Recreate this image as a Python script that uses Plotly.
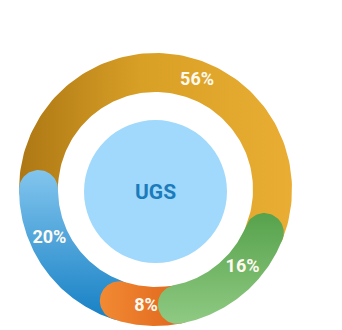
import numpy as np
import plotly.graph_objects as go

# ---- data ----
segments = ["A", "B", "C", "D"]
values = [56, 16, 8, 20]
labels = ["56%", "16%", "8%", "20%"]
center_label = "UGS"

# ---- style ----
gradients = [
    ("horizontal", [[0, "#ad7714"], [0.45, "#d9a026"], [1, "#e9ad33"]]),
    ("vertical", [[0, "#8fca83"], [1, "#57a24c"]]),
    ("horizontal", [[0, "#f28a33"], [1, "#dd6119"]]),
    ("vertical", [[0, "#1680c4"], [1, "#82c5ee"]]),
]
label_shift_deg = [10, -8.5, 1, 11]
draw_order = [0, 3, 2, 1]
rotation = 270.0
r_out, r_in = 1.0, 97.5 / 136.5
r_mid, half_w = (r_out + r_in) / 2, (r_out - r_in) / 2

W, H = 342, 330
px_per_unit = 136.5
cx_px, cy_px = 155.5, 189.5

total = sum(values)
starts, ends = [], []
acc = rotation
for v in values:
    starts.append(acc)
    acc += v / total * 360.0
    ends.append(acc)


def seg_polygon(a, b):
    xs, ys = [], []
    ang = np.radians(np.linspace(a, b, 120))
    xs += list(r_out * np.sin(ang)); ys += list(r_out * np.cos(ang))
    br = np.radians(b)
    u = np.array([np.sin(br), np.cos(br)]); t = np.array([np.cos(br), -np.sin(br)])
    c = r_mid * u
    for phi in np.linspace(0, np.pi, 40):
        p = c + half_w * (np.cos(phi) * u + np.sin(phi) * t)
        xs.append(p[0]); ys.append(p[1])
    ang = np.radians(np.linspace(b, a, 120))
    xs += list(r_in * np.sin(ang)); ys += list(r_in * np.cos(ang))
    ar = np.radians(a)
    u = np.array([np.sin(ar), np.cos(ar)]); t = np.array([np.cos(ar), -np.sin(ar)])
    c = r_mid * u
    for phi in np.linspace(0, np.pi, 40):
        p = c + half_w * (-np.cos(phi) * u - np.sin(phi) * t)
        xs.append(p[0]); ys.append(p[1])
    xs.append(xs[0]); ys.append(ys[0])
    return xs, ys


fig = go.Figure()
for i in draw_order:
    xs, ys = seg_polygon(starts[i], ends[i])
    gtype, cs = gradients[i]
    fig.add_trace(go.Scatter(
        x=xs, y=ys, mode="lines", line=dict(width=0),
        fill="toself", fillcolor=cs[-1][1],
        fillgradient=dict(type=gtype, colorscale=cs),
        hoverinfo="skip", showlegend=False,
    ))

mids = np.radians([(s + e) / 2 + d for s, e, d in zip(starts, ends, label_shift_deg)])
fig.add_trace(go.Scatter(
    x=r_mid * np.sin(mids), y=r_mid * np.cos(mids),
    mode="text", text=labels,
    textfont=dict(family="Roboto", size=18, color="#fffaf0", weight="bold"),
    hoverinfo="skip", showlegend=False,
))

rc = 71.5 / px_per_unit
fig.add_shape(type="circle", x0=-rc, x1=rc, y0=-rc - 0.015, y1=rc - 0.015,
              fillcolor="#a0d9fc", line=dict(width=0), layer="below")
fig.add_annotation(x=0, y=-0.015, text=f"<b>{center_label}</b>", showarrow=False,
                   font=dict(family="Roboto", size=21, color="#1b7bbb"))

fig.update_layout(
    width=W, height=H, margin=dict(l=0, r=0, t=0, b=0),
    paper_bgcolor="white", plot_bgcolor="white",
    xaxis=dict(range=[-cx_px / px_per_unit, (W - cx_px) / px_per_unit],
               visible=False, fixedrange=True),
    yaxis=dict(range=[-(H - cy_px) / px_per_unit, cy_px / px_per_unit],
               visible=False, fixedrange=True),
)
fig.write_html("out.html")
